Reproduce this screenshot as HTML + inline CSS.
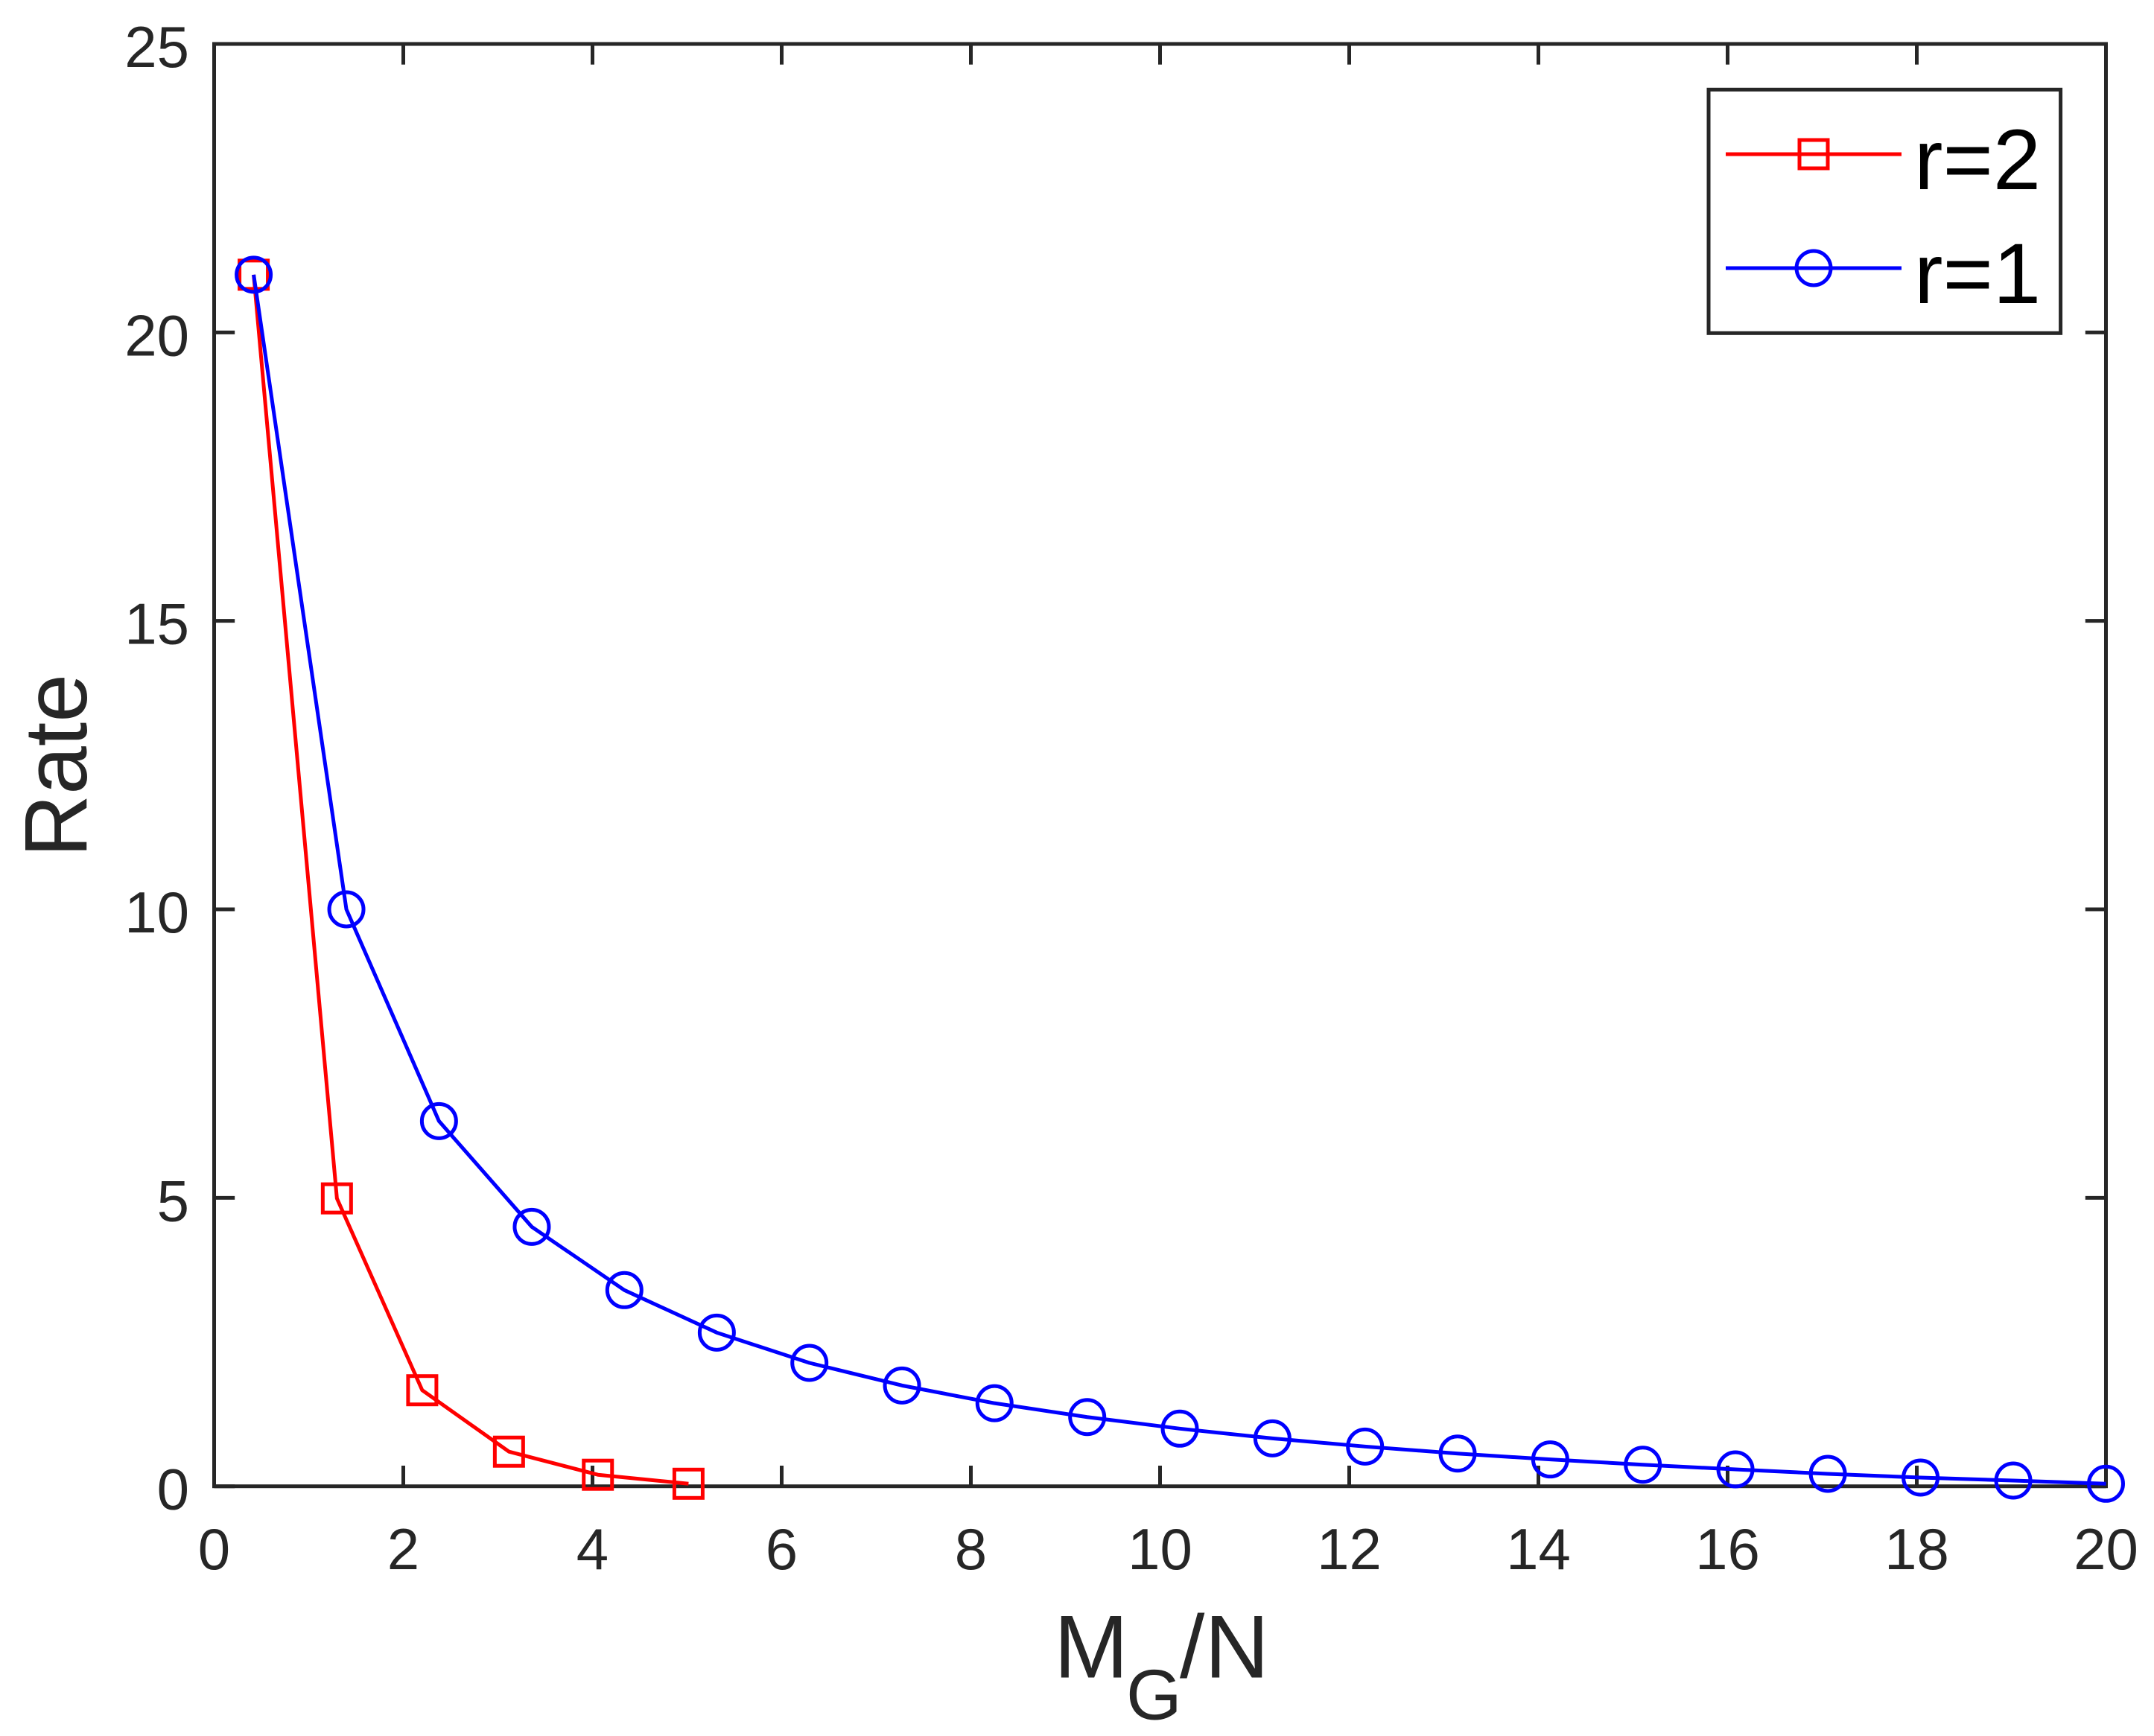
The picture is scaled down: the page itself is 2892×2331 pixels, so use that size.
<!DOCTYPE html>
<html lang="en">
<head>
<meta charset="utf-8">
<title>Rate vs MG/N</title>
<style>
html,body{margin:0;padding:0;background:#fff;}
svg{display:block;}
text{font-family:"Liberation Sans",sans-serif;}
</style>
</head>
<body>
<svg id="chart" xmlns="http://www.w3.org/2000/svg" width="2892" height="2331" viewBox="0 0 2892 2331">
  <rect x="0" y="0" width="2892" height="2331" fill="#ffffff"/>
  <g id="ticks"></g>
  <rect x="287.5" y="59" width="2540" height="1936.7" fill="none" stroke="#262626" stroke-width="5"/>
  <g id="tick-labels"></g>
  <g id="series"></g>
  <text transform="translate(116 1151) rotate(-90)" font-size="120" textLength="246" lengthAdjust="spacingAndGlyphs" fill="#262626">Rate</text>
  <text fill="#262626"><tspan x="1415" y="2252.7" font-size="120">M</tspan><tspan x="1512" y="2308.7" font-size="96">G</tspan><tspan x="1584" y="2252.7" font-size="120">/N</tspan></text>
  <g>
    <rect x="2294" y="120.3" width="472.6" height="327" fill="#ffffff" stroke="#262626" stroke-width="5"/>
    <g>
      <line x1="2317" y1="207" x2="2553" y2="207" stroke="#ff0000" stroke-width="5"/>
      <rect x="2416" y="188" width="38" height="38" fill="none" stroke="#ff0000" stroke-width="5"/>
      <text x="2570" y="254" font-size="115.5" fill="#000000">r=2</text>
    </g>
    <g>
      <line x1="2317" y1="360" x2="2553" y2="360" stroke="#0000ff" stroke-width="5"/>
      <circle cx="2435" cy="360" r="23" fill="none" stroke="#0000ff" stroke-width="5"/>
      <text x="2570" y="407" font-size="115.5" fill="#000000">r=1</text>
    </g>
  </g>
</svg>
<script>
const xTickLabels = [0, 2, 4, 6, 8, 10, 12, 14, 16, 18, 20];
const yTickLabels = [0, 5, 10, 15, 20, 25];
const r2X = [0.418, 1.298, 2.2, 3.117, 4.057, 5.015];
const r2Y = [21, 4.99, 1.665, 0.6, 0.2, 0.044];
const r1X = [0.418, 1.398, 2.377, 3.358, 4.337, 5.314, 6.293, 7.272, 8.25, 9.23, 10.209, 11.188, 12.167, 13.146, 14.125, 15.104, 16.083, 17.06, 18.04, 19.02, 20];
const r1Y = [21, 10, 6.33, 4.497, 3.4, 2.664, 2.139, 1.747, 1.44, 1.2, 0.999, 0.83, 0.689, 0.568, 0.465, 0.374, 0.293, 0.216, 0.151, 0.099, 0.044];

const NS = 'http://www.w3.org/2000/svg';
const plotLeft = 287.5, plotRight = 2827.5, plotTop = 59, plotBottom = 1995.7;
const xMax = 20, yMax = 25, tickLen = 27.7;
function sx(v){ return plotLeft + (v / xMax) * (plotRight - plotLeft); }
function sy(v){ return plotBottom - (v / yMax) * (plotBottom - plotTop); }
function make(tag, props){
  const el = document.createElementNS(NS, tag);
  for (const k in props) el.setAttribute(k, props[k]);
  return el;
}
const tickStyle = {stroke:'#262626','stroke-width':5};
const ticksG = document.getElementById('ticks');
const labelsG = document.getElementById('tick-labels');

xTickLabels.forEach(function(v){
  const x = sx(v);
  [[plotBottom, plotBottom - tickLen],[plotTop, plotTop + tickLen]].forEach(function(p){
    const t = make('line', Object.assign({x1:x,x2:x,y1:p[0],y2:p[1]}, tickStyle));
    
    
    ticksG.appendChild(t);
  });
  const lab = make('text', {x:x,y:2107,'text-anchor':'middle','font-size':78,fill:'#262626'});
  
  
  lab.textContent = v;
  labelsG.appendChild(lab);
});
yTickLabels.forEach(function(v){
  const y = sy(v);
  [[plotLeft, plotLeft + tickLen],[plotRight, plotRight - tickLen]].forEach(function(p){
    const t = make('line', Object.assign({x1:p[0],x2:p[1],y1:y,y2:y}, tickStyle));
    
    
    ticksG.appendChild(t);
  });
  const lab = make('text', {x:254,y:y+31,'text-anchor':'end','font-size':78,fill:'#262626'});
  
  
  lab.textContent = v;
  labelsG.appendChild(lab);
});

const seriesG = document.getElementById('series');
function polyPoints(xs, ys){
  return xs.map(function(x, i){ return sx(x).toFixed(2) + ',' + sy(ys[i]).toFixed(2); }).join(' ');
}

const r2Group = make('g', {});


seriesG.appendChild(r2Group);
const r2Line = make('polyline', {points:polyPoints(r2X, r2Y),fill:'none',stroke:'#ff0000','stroke-width':5,'stroke-linejoin':'round'});


r2Group.appendChild(r2Line);
r2X.forEach(function(x, i){
  const m = make('rect', {x:sx(x)-19,y:sy(r2Y[i])-19,width:38,height:38,fill:'none',stroke:'#ff0000','stroke-width':5});
  
  
  r2Group.appendChild(m);
});

const r1Group = make('g', {});


seriesG.appendChild(r1Group);
const r1Line = make('polyline', {points:polyPoints(r1X, r1Y),fill:'none',stroke:'#0000ff','stroke-width':5,'stroke-linejoin':'round'});


r1Group.appendChild(r1Line);
r1X.forEach(function(x, i){
  const m = make('circle', {cx:sx(x),cy:sy(r1Y[i]),r:23,fill:'none',stroke:'#0000ff','stroke-width':5});
  
  
  r1Group.appendChild(m);
});
</script>
</body>
</html>
